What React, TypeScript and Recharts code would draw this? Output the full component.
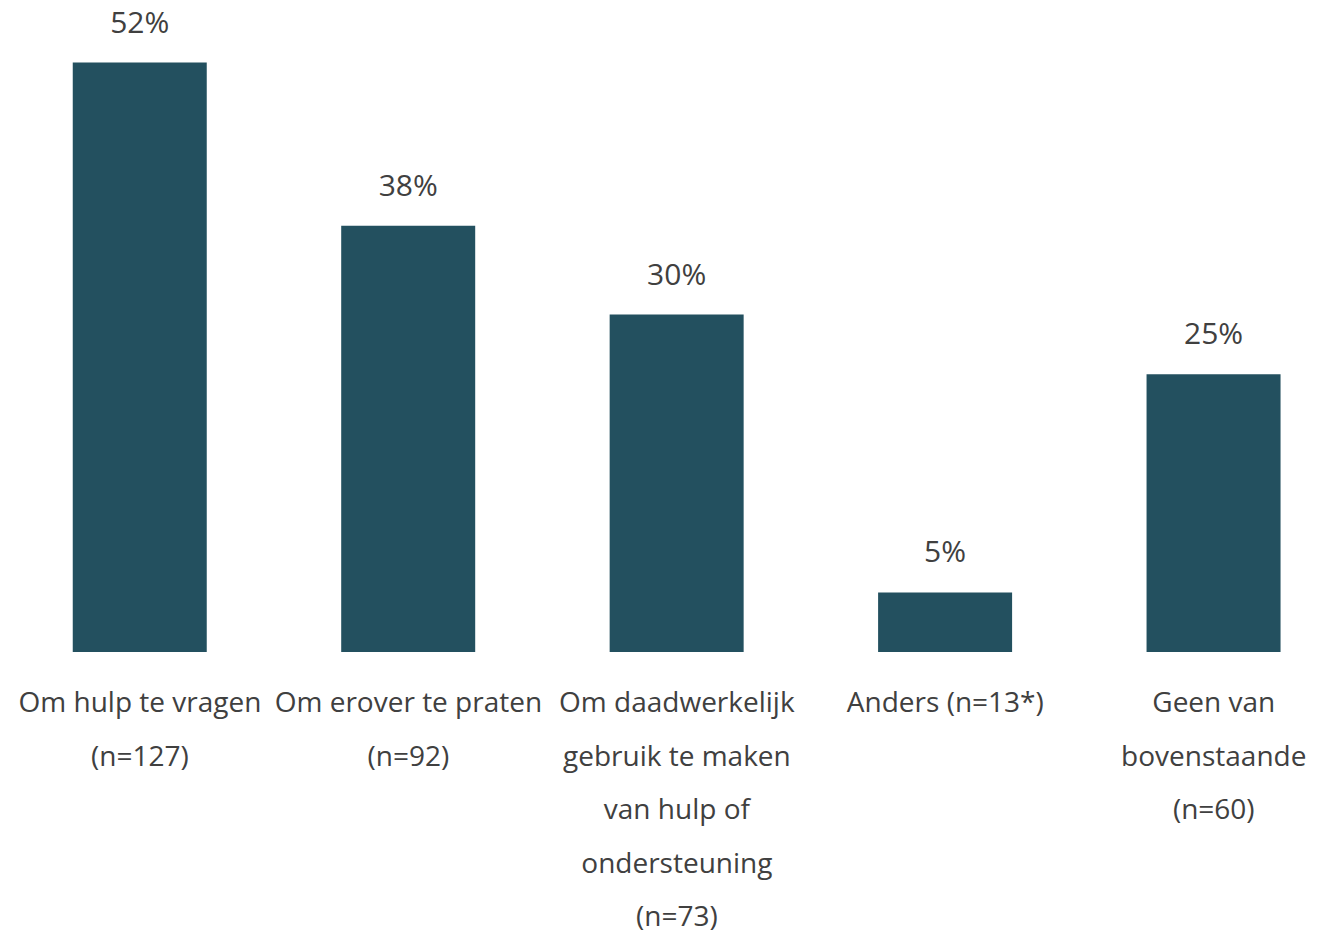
import React from 'react';
import { BarChart, Bar, XAxis, YAxis, LabelList } from 'recharts';

// categories (line breaks as they wrap in the original)
const categories = [
  'Om hulp te vragen\n(n=127)',
  'Om erover te praten\n(n=92)',
  'Om daadwerkelijk\ngebruik te maken\nvan hulp of\nondersteuning\n(n=73)',
  'Anders (n=13*)',
  'Geen van\nbovenstaande\n(n=60)',
];

// percentages
const percentages = [52.4, 37.9, 30.0, 5.3, 24.7];

const data = categories.map((name, i) => ({ name, value: percentages[i] }));

const BAR_COLOR = '#23505F';
const TEXT_COLOR = '#404040';
const FONT = '"Open Sans", sans-serif';

const CategoryTick = (props: any) => {
  const { x, y, payload } = props;
  const lines = String(payload.value).split('\n');
  return (
    <text
      x={x}
      y={y + 60}
      textAnchor="middle"
      fill={TEXT_COLOR}
      fontSize={28}
      fontFamily={FONT}
    >
      {lines.map((line, i) => (
        <tspan key={i} x={x} dy={i === 0 ? 0 : 53.5}>
          {line}
        </tspan>
      ))}
    </text>
  );
};

export default function App() {
  return (
    <div
      style={{
        position: 'absolute',
        left: 0,
        top: 0,
        width: 1328,
        height: 934,
        overflow: 'hidden',
        background: '#fff',
      }}
    >
      <BarChart
        width={1348}
        height={934}
        data={data}
        margin={{ top: 22, right: 0, left: 5.75, bottom: 0 }}
      >
        <XAxis
          dataKey="name"
          height={282}
          axisLine={false}
          tickLine={false}
          tickSize={0}
          tickMargin={0}
          interval={0}
          tick={<CategoryTick />}
        />
        <YAxis hide domain={[0, 56]} />
        <Bar dataKey="value" fill={BAR_COLOR} barSize={134} isAnimationActive={false}>
          <LabelList
            dataKey="value"
            position="top"
            offset={30}
            formatter={(v: any) => `${Math.round(Number(v))}%`}
            fill={TEXT_COLOR}
            fontSize={30}
            fontFamily={FONT}
          />
        </Bar>
      </BarChart>
    </div>
  );
}
